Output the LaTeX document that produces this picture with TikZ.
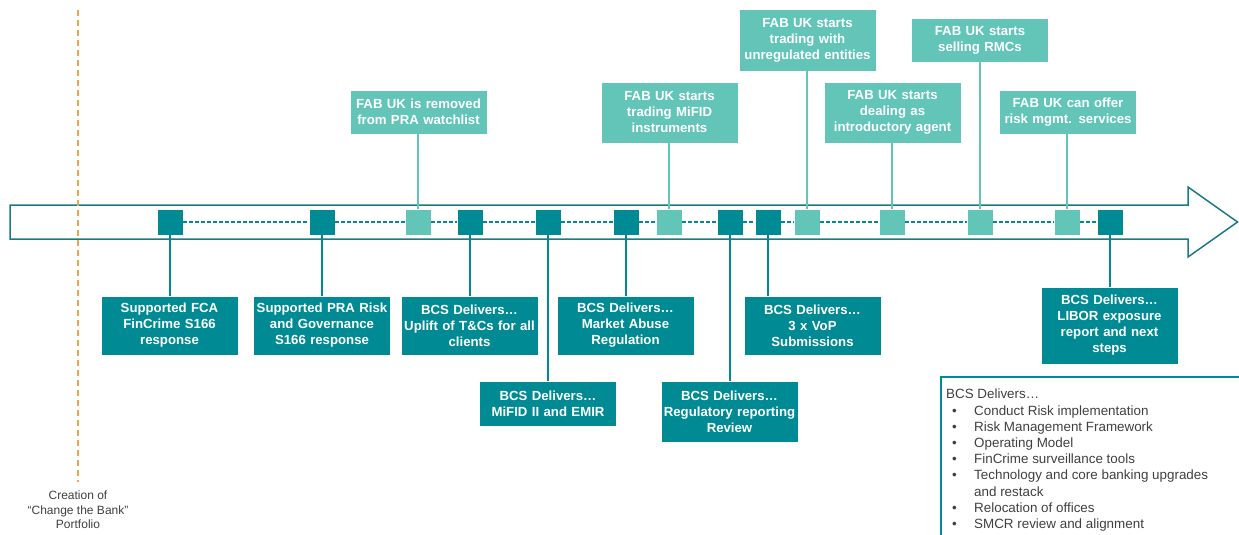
\documentclass[tikz,border=0pt]{standalone}
\usepackage{fontspec}
\setmainfont{Liberation Sans}
\definecolor{darkteal}{HTML}{008B94}
\definecolor{lightteal}{HTML}{62C5B8}
\definecolor{arrowline}{HTML}{1A7B80}
\definecolor{orangeline}{HTML}{F2A546}
\definecolor{greytext}{HTML}{404040}
\tikzset{
  darksq/.style={draw=white, line width=0.6pt, fill=darkteal, minimum size=26pt, inner sep=0pt},
  lightsq/.style={draw=white, line width=0.6pt, fill=lightteal, minimum size=26pt, inner sep=0pt},
  darkbox/.style={draw=white, line width=0.6pt, fill=darkteal, text=white, minimum width=137pt, text width=136pt, inner sep=0pt, align=center, font=\bfseries\fontsize{13.2}{16}\selectfont},
  lightbox/.style={draw=white, line width=0.6pt, fill=lightteal, text=white, minimum width=137pt, text width=136pt, inner sep=0pt, align=center, font=\bfseries\fontsize{13.2}{16}\selectfont},
  darkconn/.style={draw=darkteal, line width=1.3pt},
  lightconn/.style={draw=lightteal, line width=1.3pt},
  timeline/.style={draw=darkteal, line width=1.2pt, dash pattern=on 4pt off 2pt},
}
\begin{document}
\begin{tikzpicture}[x=1pt,y=-1pt]
\useasboundingbox (0,0) rectangle (1239,535);
% arrow
\draw[arrowline, line width=1.5pt, line join=miter] (10,205) -- (1188,205) -- (1188,187) -- (1237.5,222) -- (1188,257) -- (1188,239) -- (10,239) -- cycle;
% orange line
\draw[orangeline, line width=1.6pt, dash pattern=on 6pt off 4pt] (78,10) coordinate (otop) -- (78,482) coordinate (obot);
\node[font=\fontsize{12}{14.5}\selectfont, text=greytext, align=center, anchor=north] (creation) at (78,487.5) {Creation of\\``Change the Bank''\\Portfolio};

% squares
\node[darksq]  (s1)  at (170,222) {};
\node[darksq]  (s2)  at (322,222) {};
\node[lightsq] (s3)  at (418,222) {};
\node[darksq]  (s4)  at (470,222) {};
\node[darksq]  (s5)  at (548,222) {};
\node[darksq]  (s6)  at (626,222) {};
\node[lightsq] (s7)  at (669,222) {};
\node[darksq]  (s8)  at (730,222) {};
\node[darksq]  (s9)  at (768,222) {};
\node[lightsq] (s10) at (807,222) {};
\node[lightsq] (s11) at (892,222) {};
\node[lightsq] (s12) at (980,222) {};
\node[lightsq] (s13) at (1067,222) {};
\node[darksq]  (s14) at (1110,222) {};

% top boxes
\node[lightbox, minimum height=44pt] (t1) at (418.5,112) {FAB UK is removed\\from PRA watchlist};
\node[lightbox, minimum height=61pt] (t2) at (669.5,112.5) {FAB UK starts\\trading MiFID\\instruments};
\node[lightbox, minimum height=62pt] (t3) at (807.5,40) {FAB UK starts\\trading with\\unregulated entities};
\node[lightbox, minimum height=61pt] (t4) at (892.5,112.5) {FAB UK starts\\dealing as\\introductory agent};
\node[lightbox, minimum height=44pt] (t5) at (980,40) {FAB UK starts\\selling RMCs};
\node[lightbox, minimum height=44pt] (t6) at (1068,112) {FAB UK can offer\\risk mgmt. services};

% bottom boxes
\node[darkbox, minimum height=59pt] (b1) at (169.5,325.5) {Supported FCA\\FinCrime S166\\response};
\node[darkbox, minimum height=59pt] (b2) at (322,325.5) {Supported PRA Risk\\and Governance\\S166 response};
\node[darkbox, minimum height=59pt] (b4) at (469.5,325.5) {BCS Delivers…\\Uplift of T\&Cs for all\\clients};
\node[darkbox, minimum height=45pt] (b5) at (548,403.5) {BCS Delivers…\\MiFID II and EMIR};
\node[darkbox, minimum height=59pt] (b6) at (625.5,325.5) {BCS Delivers…\\Market Abuse\\Regulation};
\node[darkbox, minimum height=61pt] (b8) at (729.5,411.5) {BCS Delivers…\\Regulatory reporting\\Review};
\node[darkbox, minimum height=59pt] (b9) at (812.5,325.5) {BCS Delivers…\\3 x VoP\\Submissions};
\node[darkbox, minimum height=77pt] (b14) at (1109.5,325.5) {BCS Delivers…\\LIBOR exposure\\report and next\\steps};

% connectors
\draw[lightconn] (s3.north) -- (s3 |- t1.south);
\draw[lightconn] (s7.north) -- (s7 |- t2.south);
\draw[lightconn] (s10.north) -- (s10 |- t3.south);
\draw[lightconn] (s11.north) -- (s11 |- t4.south);
\draw[lightconn] (s12.north) -- (s12 |- t5.south);
\draw[lightconn] (s13.north) -- (s13 |- t6.south);

\draw[darkconn] (s1.south) -- (s1 |- b1.north);
\draw[darkconn] (s2.south) -- (s2 |- b2.north);
\draw[darkconn] (s4.south) -- (s4 |- b4.north);
\draw[darkconn] (s5.south) -- (s5 |- b5.north);
\draw[darkconn] (s6.south) -- (s6 |- b6.north);
\draw[darkconn] (s8.south) -- (s8 |- b8.north);
\draw[darkconn] (s9.south) -- (s9 |- b9.north);
\draw[darkconn] (s14.south) -- (s14 |- b14.north);

% dashed timeline between squares
\draw[timeline] (s1.east) -- (s2.west);
\draw[timeline] (s2.east) -- (s3.west);
\draw[timeline] (s3.east) -- (s4.west);
\draw[timeline] (s4.east) -- (s5.west);
\draw[timeline] (s5.east) -- (s6.west);
\draw[timeline] (s6.east) -- (s7.west);
\draw[timeline] (s7.east) -- (s8.west);
\draw[timeline] (s8.east) -- (s9.west);
\draw[timeline] (s9.east) -- (s10.west);
\draw[timeline] (s10.east) -- (s11.west);
\draw[timeline] (s11.east) -- (s12.west);
\draw[timeline] (s12.east) -- (s13.west);
\draw[timeline] (s13.east) -- (s14.west);

% bottom-right text box
\draw[darkteal, line width=1.2pt] (1245,377) -- (941,377) -- (941,540);
\node[anchor=north west, inner sep=0pt, text=greytext, font=\fontsize{13.4}{16.2}\selectfont, align=left] (list) at (946,389) {%
BCS Delivers…\\
\makebox[28pt][l]{\hspace{6pt}•}Conduct Risk implementation\\
\makebox[28pt][l]{\hspace{6pt}•}Risk Management Framework\\
\makebox[28pt][l]{\hspace{6pt}•}Operating Model\\
\makebox[28pt][l]{\hspace{6pt}•}FinCrime surveillance  tools\\
\makebox[28pt][l]{\hspace{6pt}•}Technology and core banking upgrades\\
\makebox[28pt][l]{}and restack\\
\makebox[28pt][l]{\hspace{6pt}•}Relocation of offices\\
\makebox[28pt][l]{\hspace{6pt}•}SMCR review and alignment};
\end{tikzpicture}
\end{document}
